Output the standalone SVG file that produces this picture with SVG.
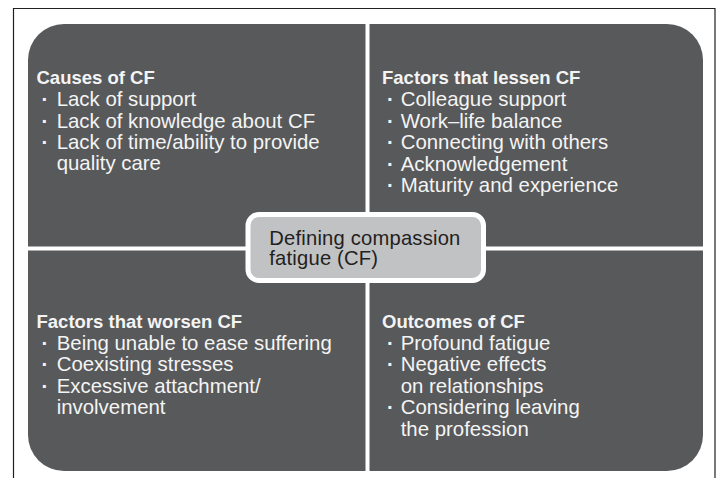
<svg xmlns="http://www.w3.org/2000/svg" width="718" height="478" viewBox="0 0 718 478">
  <style>
    .frame { fill: none; stroke: #231f20; stroke-width: 1.2; }
    .panel { fill: #58595b; }
    .divider { stroke: #ffffff; stroke-width: 4; fill: none; }
    .head { font-family: "Liberation Sans", Arial, sans-serif; font-weight: bold; font-size: 18.5px; fill: #f4f4f4; }
    .item { font-family: "Liberation Sans", Arial, sans-serif; font-size: 20.4px; fill: #f4f4f4; }
    .dot { font-weight: bold; }
    .core { fill: #c1c2c4; stroke: #ffffff; stroke-width: 5; }
    .core-text { font-family: "Liberation Sans", Arial, sans-serif; font-size: 20.2px; fill: #231f20; letter-spacing: 0.2px; }
  </style>

  <rect width="718" height="478" fill="#ffffff"/>

  <!-- outer frame, open at the bottom -->
  <path class="frame" d="M13.5,478 V8.5 H715 V478"/>

  <!-- dark quadrant block with the two white dividers -->
  <g id="quadrants">
    <rect class="panel" x="28" y="24" width="675" height="447" rx="36" ry="36"/>
  </g>
  <g id="connectors">
    <line class="divider" x1="367.5" y1="22" x2="367.5" y2="473"/>
    <line class="divider" x1="26" y1="248.5" x2="705" y2="248.5"/>
  </g>

  <g id="causes">
    <text class="head" x="36.5" y="84.3">Causes of CF</text>
    <text class="item" y="106"><tspan class="dot" x="41.5">·</tspan><tspan x="56.7">Lack of support</tspan></text>
    <text class="item" y="127.5"><tspan class="dot" x="41.5">·</tspan><tspan x="56.7">Lack of knowledge about CF</tspan></text>
    <text class="item" y="149"><tspan class="dot" x="41.5">·</tspan><tspan x="56.7">Lack of time/ability to provide</tspan></text>
    <text class="item" x="56.7" y="170.3">quality care</text>
  </g>

  <g id="lessen">
    <text class="head" x="382" y="84.3">Factors that lessen CF</text>
    <text class="item" y="106"><tspan class="dot" x="387">·</tspan><tspan x="400.7">Colleague support</tspan></text>
    <text class="item" y="127.5"><tspan class="dot" x="387">·</tspan><tspan x="400.7">Work–life balance</tspan></text>
    <text class="item" y="149"><tspan class="dot" x="387">·</tspan><tspan x="400.7">Connecting with others</tspan></text>
    <text class="item" y="170.5"><tspan class="dot" x="387">·</tspan><tspan x="400.7">Acknowledgement</tspan></text>
    <text class="item" y="192"><tspan class="dot" x="387">·</tspan><tspan x="400.7">Maturity and experience</tspan></text>
  </g>

  <g id="worsen">
    <text class="head" x="36.5" y="327.5">Factors that worsen CF</text>
    <text class="item" y="349.5"><tspan class="dot" x="41.5">·</tspan><tspan x="56.7">Being unable to ease suffering</tspan></text>
    <text class="item" y="371"><tspan class="dot" x="41.5">·</tspan><tspan x="56.7">Coexisting stresses</tspan></text>
    <text class="item" y="392.5"><tspan class="dot" x="41.5">·</tspan><tspan x="56.7">Excessive attachment/</tspan></text>
    <text class="item" x="56.7" y="414">involvement</text>
  </g>

  <g id="outcomes">
    <text class="head" x="382" y="328">Outcomes of CF</text>
    <text class="item" y="349.5"><tspan class="dot" x="387">·</tspan><tspan x="400.7">Profound fatigue</tspan></text>
    <text class="item" y="371"><tspan class="dot" x="387">·</tspan><tspan x="400.7">Negative effects</tspan></text>
    <text class="item" x="400.7" y="392.5">on relationships</text>
    <text class="item" y="414"><tspan class="dot" x="387">·</tspan><tspan x="400.7">Considering leaving</tspan></text>
    <text class="item" x="400.7" y="435.5">the profession</text>
  </g>

  <g id="defining">
    <rect class="core" x="248" y="214.5" width="235.5" height="66" rx="11" ry="11"/>
    <text class="core-text" x="269.3" y="245">Defining compassion</text>
    <text class="core-text" x="269.3" y="265.2">fatigue (CF)</text>
  </g>
</svg>
